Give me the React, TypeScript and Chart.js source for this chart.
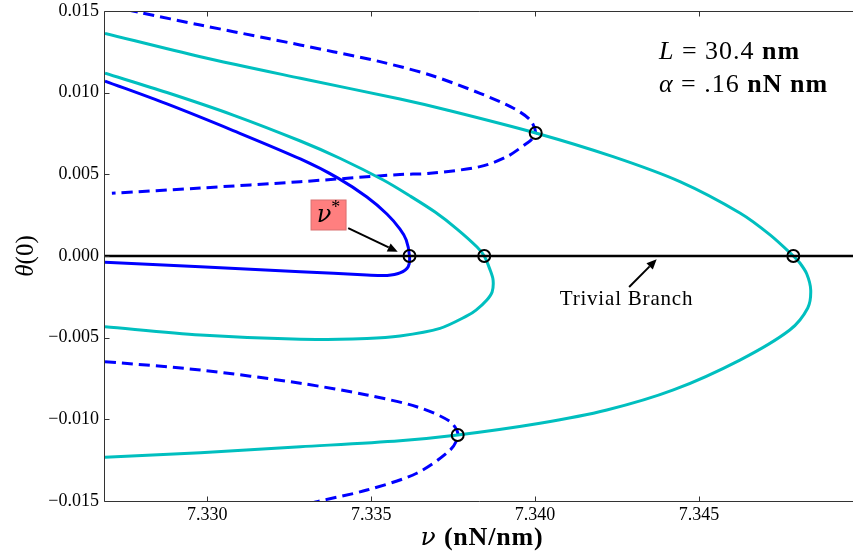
import React, { useEffect, useRef } from "react";
import { Chart, registerables } from "chart.js";

Chart.register(...registerables);

const SERIF = '"Liberation Serif", "Times New Roman", serif';
const GREEK = '"DejaVu Serif", "Liberation Serif", serif';

// Axis limits and tick values
const X_MIN = 7.32688;
const X_MAX = 7.3497;
const Y_MIN = -0.015;
const Y_MAX = 0.015;
const X_TICKS = [7.33, 7.335, 7.34, 7.345];
const Y_TICKS = [-0.015, -0.01, -0.005, 0, 0.005, 0.01, 0.015];

// Solid blue branch (first mode, folds back at nu*)
const blueSolidNu = [7.32688, 7.32877, 7.33079, 7.33284, 7.33399, 7.33487, 7.33548, 7.33588, 7.33607, 7.33617, 7.33613, 7.33588, 7.33549, 7.33487, 7.33284, 7.32979, 7.32688];
const blueSolidTheta = [0.01071, 0.00931, 0.00768, 0.00594, 0.00477, 0.00361, 0.00257, 0.00165, 0.00098, 0.0, -0.00066, -0.00104, -0.00119, -0.00116, -0.00096, -0.00066, -0.00039];

// Inner cyan branch
const cyanInnerNu = [7.32688, 7.32877, 7.33079, 7.33284, 7.33406, 7.33537, 7.33619, 7.33695, 7.33762, 7.33823, 7.33845, 7.33863, 7.33872, 7.33869, 7.33853, 7.3382, 7.33792, 7.3371, 7.33588, 7.33487, 7.33284, 7.32979, 7.32688];
const cyanInnerTheta = [0.01119, 0.01001, 0.00863, 0.00704, 0.00597, 0.00465, 0.00367, 0.00269, 0.00165, 0.00055, 0.0, -0.00086, -0.00147, -0.0022, -0.00269, -0.00331, -0.00367, -0.00443, -0.0049, -0.00505, -0.0051, -0.00484, -0.00433];

// Outer cyan branch
const cyanOuterNu = [7.32688, 7.32979, 7.33284, 7.33588, 7.33731, 7.34002, 7.34238, 7.34442, 7.34625, 7.34717, 7.34788, 7.34808, 7.34829, 7.34841, 7.34832, 7.34777, 7.34625, 7.34422, 7.34219, 7.34015, 7.33764, 7.33588, 7.33284, 7.32979, 7.32688];
const cyanOuterTheta = [0.01363, 0.0122, 0.01088, 0.00961, 0.00894, 0.00753, 0.00608, 0.00455, 0.00263, 0.00129, 0.0, -0.00043, -0.0011, -0.00208, -0.00318, -0.00453, -0.00637, -0.0082, -0.00943, -0.01024, -0.01096, -0.01131, -0.01168, -0.01204, -0.01232];

// Upper dashed blue branch
const dashTopNu = [7.32704, 7.32796, 7.32979, 7.33182, 7.33384, 7.33527, 7.3368, 7.33832, 7.33933, 7.33985, 7.34002, 7.33988, 7.33975, 7.33914, 7.33832, 7.3368, 7.33588, 7.33284, 7.32979, 7.32709];
const dashTopTheta = [0.01531, 0.0149, 0.01414, 0.01333, 0.01251, 0.0119, 0.01108, 0.00996, 0.00906, 0.00833, 0.00753, 0.0071, 0.0069, 0.00608, 0.00547, 0.00506, 0.00499, 0.00455, 0.00416, 0.00384];

// Lower dashed blue branch
const dashBottomNu = [7.32688, 7.32979, 7.33284, 7.33487, 7.33639, 7.33741, 7.33765, 7.33741, 7.33639, 7.33487, 7.33335, 7.33284];
const dashBottomTheta = [-0.00647, -0.00698, -0.00779, -0.00851, -0.00923, -0.01014, -0.01096, -0.01188, -0.0133, -0.01433, -0.01504, -0.01531];

// Bifurcation points
const markerNu = [7.33617, 7.33845, 7.34788, 7.34002, 7.33764];
const markerTheta = [0, 0, 0, 0.00753, -0.01096];

// Annotation anchors (data units)
const NU_STAR_BOX = { nu: 7.3337, theta: 0.00251 };
const NU_STAR_ARROW = { fromNu: 7.3343, fromTheta: 0.00171, toNu: 7.33581, toTheta: 0.00026 };
const TRIVIAL_TEXT = { nu: 7.34279, theta: -0.003 };
const TRIVIAL_ARROW = { fromNu: 7.34287, fromTheta: -0.0019, toNu: 7.34371, toTheta: -0.0002 };

const BLUE = "#0000ff";
const CYAN = "#00bfbf";

const pts = (nu: number[], th: number[]) => nu.map((v, i) => ({ x: v, y: th[i] }));

type Run = { text: string; font: string; dy?: number };

function drawRuns(ctx: any, runs: Run[], x: number, y: number, align: "left" | "center", spacing = 0) {
  ctx.letterSpacing = `${spacing}px`;
  let total = 0;
  for (const r of runs) {
    ctx.font = r.font;
    total += ctx.measureText(r.text).width;
  }
  let cx = align === "center" ? x - total / 2 : x;
  ctx.textAlign = "left";
  for (const r of runs) {
    ctx.font = r.font;
    ctx.fillText(r.text, cx, y + (r.dy || 0));
    cx += ctx.measureText(r.text).width;
  }
  ctx.letterSpacing = "0px";
}

function drawArrow(ctx: CanvasRenderingContext2D, x1: number, y1: number, x2: number, y2: number) {
  const ang = Math.atan2(y2 - y1, x2 - x1);
  const head = 10;
  const half = 4.5;
  const bx = x2 - head * Math.cos(ang);
  const by = y2 - head * Math.sin(ang);
  ctx.strokeStyle = "#000";
  ctx.fillStyle = "#000";
  ctx.lineWidth = 2;
  ctx.beginPath();
  ctx.moveTo(x1, y1);
  ctx.lineTo(bx, by);
  ctx.stroke();
  ctx.beginPath();
  ctx.moveTo(x2, y2);
  ctx.lineTo(bx + half * Math.sin(ang), by - half * Math.cos(ang));
  ctx.lineTo(bx - half * Math.sin(ang), by + half * Math.cos(ang));
  ctx.closePath();
  ctx.fill();
}

const decorations = {
  id: "decorations",
  afterDraw(chart: any) {
    const { ctx, chartArea: a, scales } = chart;
    const xs = scales.x;
    const ys = scales.y;
    ctx.save();

    // frame (left, top, bottom) with inward ticks
    const L = Math.round(a.left) - 0.5;
    const T = Math.round(a.top) + 0.5;
    const B = Math.round(a.bottom) + 0.5;
    ctx.strokeStyle = "#333";
    ctx.lineWidth = 1;
    ctx.beginPath();
    ctx.moveTo(a.right + 2, T);
    ctx.lineTo(L, T);
    ctx.lineTo(L, B);
    ctx.lineTo(a.right + 2, B);
    ctx.stroke();
    ctx.beginPath();
    for (const v of X_TICKS) {
      const px = Math.round(xs.getPixelForValue(v)) + 0.5;
      ctx.moveTo(px, B);
      ctx.lineTo(px, B - 5);
      ctx.moveTo(px, T);
      ctx.lineTo(px, T + 5);
    }
    for (const v of Y_TICKS) {
      const py = Math.round(ys.getPixelForValue(v)) + 0.5;
      ctx.moveTo(L, py);
      ctx.lineTo(L + 5, py);
    }
    ctx.stroke();

    ctx.fillStyle = "#000";
    ctx.textBaseline = "alphabetic";

    // axis titles
    drawRuns(
      ctx,
      [
        { text: "ν", font: `italic 25px ${GREEK}` },
        { text: " (nN/nm)", font: `bold 26px ${SERIF}` },
      ],
      (a.left + a.right) / 2 + 3,
      545,
      "center",
      0.8
    );
    ctx.save();
    ctx.translate(33, (a.top + a.bottom) / 2);
    ctx.rotate(-Math.PI / 2);
    drawRuns(
      ctx,
      [
        { text: "θ", font: `italic 25px ${SERIF}` },
        { text: "(0)", font: `25px ${SERIF}` },
      ],
      0,
      0,
      "center"
    );
    ctx.restore();

    // parameter text
    const tx = a.left + 0.7406 * (a.right - a.left);
    const h = a.bottom - a.top;
    drawRuns(
      ctx,
      [
        { text: "L", font: `italic 26px ${SERIF}` },
        { text: " = 30.4 ", font: `26px ${SERIF}` },
        { text: "nm", font: `bold 26px ${SERIF}` },
      ],
      tx,
      a.top + 0.098 * h,
      "left",
      1
    );
    drawRuns(
      ctx,
      [
        { text: "α", font: `italic 26px ${SERIF}` },
        { text: " = .16 ", font: `26px ${SERIF}` },
        { text: "nN nm", font: `bold 26px ${SERIF}` },
      ],
      tx,
      a.top + 0.165 * h,
      "left",
      1
    );

    // nu* label box and arrow
    const bx = xs.getPixelForValue(NU_STAR_BOX.nu);
    const by = ys.getPixelForValue(NU_STAR_BOX.theta);
    ctx.fillStyle = "#ff7f7f";
    ctx.fillRect(bx - 17.5, by - 15, 35, 30);
    ctx.strokeStyle = "#d97070";
    ctx.lineWidth = 1;
    ctx.strokeRect(bx - 17.5, by - 15, 35, 30);
    ctx.fillStyle = "#000";
    drawRuns(
      ctx,
      [
        { text: "ν", font: `italic 24px ${GREEK}` },
        { text: "*", font: `18px ${SERIF}`, dy: -9 },
      ],
      bx,
      by + 7,
      "center"
    );
    drawArrow(
      ctx,
      xs.getPixelForValue(NU_STAR_ARROW.fromNu),
      ys.getPixelForValue(NU_STAR_ARROW.fromTheta),
      xs.getPixelForValue(NU_STAR_ARROW.toNu),
      ys.getPixelForValue(NU_STAR_ARROW.toTheta)
    );

    // trivial branch label and arrow
    ctx.fillStyle = "#000";
    drawRuns(
      ctx,
      [{ text: "Trivial Branch", font: `21px ${SERIF}` }],
      xs.getPixelForValue(TRIVIAL_TEXT.nu),
      ys.getPixelForValue(TRIVIAL_TEXT.theta),
      "center",
      0.8
    );
    drawArrow(
      ctx,
      xs.getPixelForValue(TRIVIAL_ARROW.fromNu),
      ys.getPixelForValue(TRIVIAL_ARROW.fromTheta),
      xs.getPixelForValue(TRIVIAL_ARROW.toNu),
      ys.getPixelForValue(TRIVIAL_ARROW.toTheta)
    );

    ctx.restore();
  },
};

const fmt = (v: number) => {
  const s = Math.abs(v).toFixed(3);
  return v < -1e-12 ? "\u2212" + s : s;
};

export default function App() {
  const ref = useRef<HTMLCanvasElement | null>(null);

  useEffect(() => {
    if (!ref.current) return;
    const curve = (nu: number[], th: number[], color: string, dashed: boolean) => ({
      data: pts(nu, th),
      showLine: true,
      borderColor: color,
      borderWidth: 3,
      borderDash: dashed ? [11, 6] : [],
      pointRadius: 0,
      tension: 0.3,
      fill: false,
      clip: 0,
    });

    const chart = new Chart(ref.current, {
      type: "scatter",
      data: {
        datasets: [
          {
            data: pts(markerNu, markerTheta),
            showLine: false,
            pointRadius: 6,
            pointBorderWidth: 2,
            pointBorderColor: "#000",
            pointBackgroundColor: "rgba(0,0,0,0)",
            clip: false,
          },
          {
            data: [
              { x: X_MIN, y: 0 },
              { x: X_MAX, y: 0 },
            ],
            showLine: true,
            borderColor: "#000",
            borderWidth: 2.5,
            pointRadius: 0,
            clip: 0,
          },
          curve(blueSolidNu, blueSolidTheta, BLUE, false),
          curve(cyanInnerNu, cyanInnerTheta, CYAN, false),
          curve(cyanOuterNu, cyanOuterTheta, CYAN, false),
          curve(dashTopNu, dashTopTheta, BLUE, true),
          curve(dashBottomNu, dashBottomTheta, BLUE, true),
        ] as any,
      },
      options: {
        responsive: false,
        animation: false,
        events: [],
        layout: { autoPadding: false, padding: { top: 11, right: 0, left: 0, bottom: 0 } },
        plugins: { legend: { display: false }, tooltip: { enabled: false } },
        scales: {
          x: {
            type: "linear",
            min: X_MIN,
            max: X_MAX,
            grid: { display: false, drawTicks: false },
            border: { display: false },
            afterBuildTicks: (s: any) => {
              s.ticks = X_TICKS.map((v) => ({ value: v }));
            },
            afterFit: (s: any) => {
              s.height = 55;
              s.paddingLeft = 0;
              s.paddingRight = 0;
            },
            ticks: {
              font: { family: SERIF, size: 18 },
              color: "#000",
              padding: 3,
              maxRotation: 0,
              autoSkip: false,
              callback: (v: any) => Number(v).toFixed(3),
            },
          },
          y: {
            type: "linear",
            min: Y_MIN,
            max: Y_MAX,
            grid: { display: false, drawTicks: false },
            border: { display: false },
            afterBuildTicks: (s: any) => {
              s.ticks = Y_TICKS.map((v) => ({ value: v }));
            },
            afterFit: (s: any) => {
              s.width = 105;
              s.paddingTop = 0;
              s.paddingBottom = 0;
            },
            ticks: {
              font: { family: SERIF, size: 18 },
              color: "#000",
              padding: 6,
              autoSkip: false,
              callback: (v: any) => fmt(Number(v)),
            },
          },
        },
      } as any,
      plugins: [decorations],
    });
    return () => chart.destroy();
  }, []);

  return (
    <div style={{ position: "absolute", left: 0, top: 0, width: 853, height: 556, background: "#fff" }}>
      <canvas ref={ref} width={853} height={556} style={{ width: 853, height: 556, display: "block" }} />
    </div>
  );
}
